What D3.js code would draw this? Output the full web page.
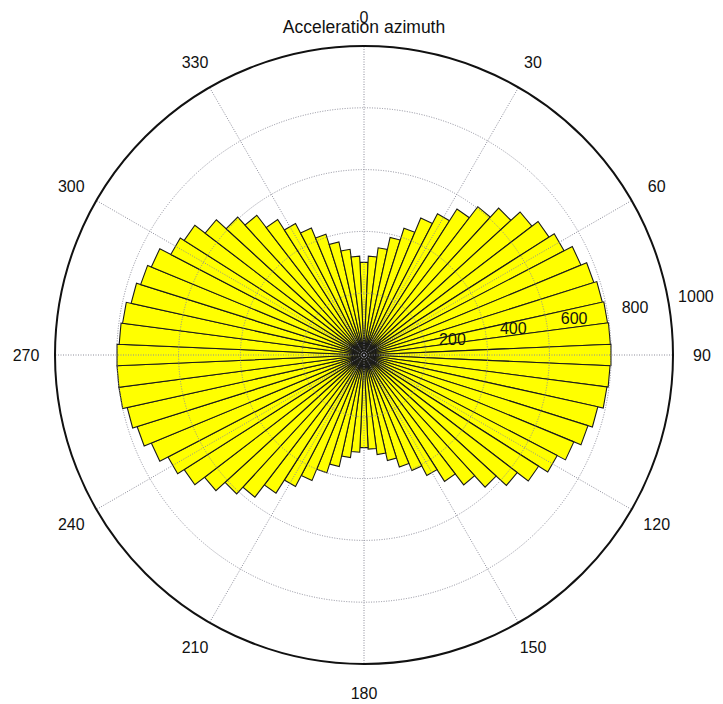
<!DOCTYPE html>
<html>
<head>
<meta charset="utf-8">
<script src="https://cdn.jsdelivr.net/npm/d3@7"></script>
<style>
  body { margin: 0; background: #fff; }
  svg { display: block; }
</style>
</head>
<body>
<div id="chart"></div>
<script>

// bin centres in degrees, clockwise from north
var binAngles = [0, 5, 10, 15, 20, 25, 30, 35, 40, 45, 50, 55, 60, 65, 70, 75, 80, 85,
	90, 95, 100, 105, 110, 115, 120, 125, 130, 135, 140, 145, 150, 155, 160, 165, 170, 175,
	180, 185, 190, 195, 200, 205, 210, 215, 220, 225, 230, 235, 240, 245, 250, 255, 260, 265,
	270, 275, 280, 285, 290, 295, 300, 305, 310, 315, 320, 325, 330, 335, 340, 345, 350, 355]

var binCounts = [300, 320, 350, 390, 430, 480, 515, 560, 605, 645, 685, 710, 730, 760, 780, 790, 795, 798,
	800, 797, 793, 775, 760, 735, 705, 670, 625, 580, 530, 485, 440, 405, 380, 350, 325, 305,
	300, 315, 335, 370, 400, 440, 480, 530, 580, 610, 650, 690, 715, 745, 770, 785, 800, 800,
	800, 793, 788, 772, 758, 745, 705, 690, 648, 605, 570, 520, 480, 445, 410, 375, 345, 320]

var binWidth = 5

var spokeAngles = [0, 30, 60, 90, 120, 150, 180, 210, 240, 270, 300, 330]

var ringValues = [200, 400, 600, 800]

var radialLabels = [200, 400, 600, 800, 1000]

var title = "Acceleration azimuth"

var width = 723
var height = 704
var cx = 364
var cy = 355
var rMax = 1000

var r = d3.scaleLinear().domain([0, rMax]).range([0, 309])
var a = d3.scaleLinear().domain([0, 360]).range([0, 2 * Math.PI])

const svg = d3.select("#chart")
	.append("svg")
	.attr("width", width)
	.attr("height", height)
	.attr("viewBox", `0 0 ${width} ${height}`)
	.style("font-family", "'Liberation Sans', Arial, sans-serif")

const g = svg.append("g")
	.attr("transform", "translate(" + cx + "," + cy + ")")

// white plot disc
g.append("circle")
	.attr("r", r(rMax))
	.attr("fill", "#fff")

// rose bars: triangle from centre to the two bin edges
g.append("g")
	.selectAll("path")
	.data(binCounts)
	.join("path")
	.attr("d", (d, i) => {
		var p1 = d3.pointRadial(a(binAngles[i] - binWidth / 2), r(d))
		var p2 = d3.pointRadial(a(binAngles[i] + binWidth / 2), r(d))
		return "M0,0L" + p1[0] + "," + p1[1] + "L" + p2[0] + "," + p2[1] + "Z"
	})
	.attr("fill", "#ffff00")
	.attr("stroke", "#1a1a1a")
	.attr("stroke-width", 1.1)
	.attr("stroke-linejoin", "miter")

// grid on top of the bars
const grid = g.append("g")
	.attr("fill", "none")
	.attr("stroke", "#8c8c99")
	.attr("stroke-width", 1)
	.style("stroke-dasharray", ("1, 1.5"))

grid.selectAll("circle")
	.data(ringValues)
	.join("circle")
	.attr("r", d => r(d))

grid.selectAll("line")
	.data(spokeAngles)
	.join("line")
	.attr("x1", 0)
	.attr("y1", 0)
	.attr("x2", d => d3.pointRadial(a(d), r(rMax))[0])
	.attr("y2", d => d3.pointRadial(a(d), r(rMax))[1])

// outer circle
g.append("circle")
	.attr("r", r(rMax))
	.attr("fill", "none")
	.attr("stroke", "#111")
	.attr("stroke-width", 2)

// angle labels
g.append("g")
	.attr("font-size", 16)
	.attr("fill", "#111")
	.attr("text-anchor", "middle")
	.selectAll("text")
	.data(spokeAngles)
	.join("text")
	.attr("x", d => d3.pointRadial(a(d), r(rMax) + 29)[0])
	.attr("y", d => d3.pointRadial(a(d), r(rMax) + 29)[1])
	.attr("dy", "0.36em")
	.text(d => d)

// radius labels
g.append("g")
	.attr("font-size", 16)
	.attr("fill", "#111")
	.attr("text-anchor", "middle")
	.selectAll("text")
	.data(radialLabels)
	.join("text")
	.attr("x", d => d3.pointRadial(a(80), r(d) + 28)[0])
	.attr("y", d => d3.pointRadial(a(80), r(d) + 28)[1])
	.attr("dy", "0.36em")
	.text(d => d)

svg.append("text")
	.attr("x", cx)
	.attr("y", 33)
	.attr("text-anchor", "middle")
	.attr("font-size", 17.5)
	.attr("fill", "#111")
	.text(title)

</script>
</body>
</html>
